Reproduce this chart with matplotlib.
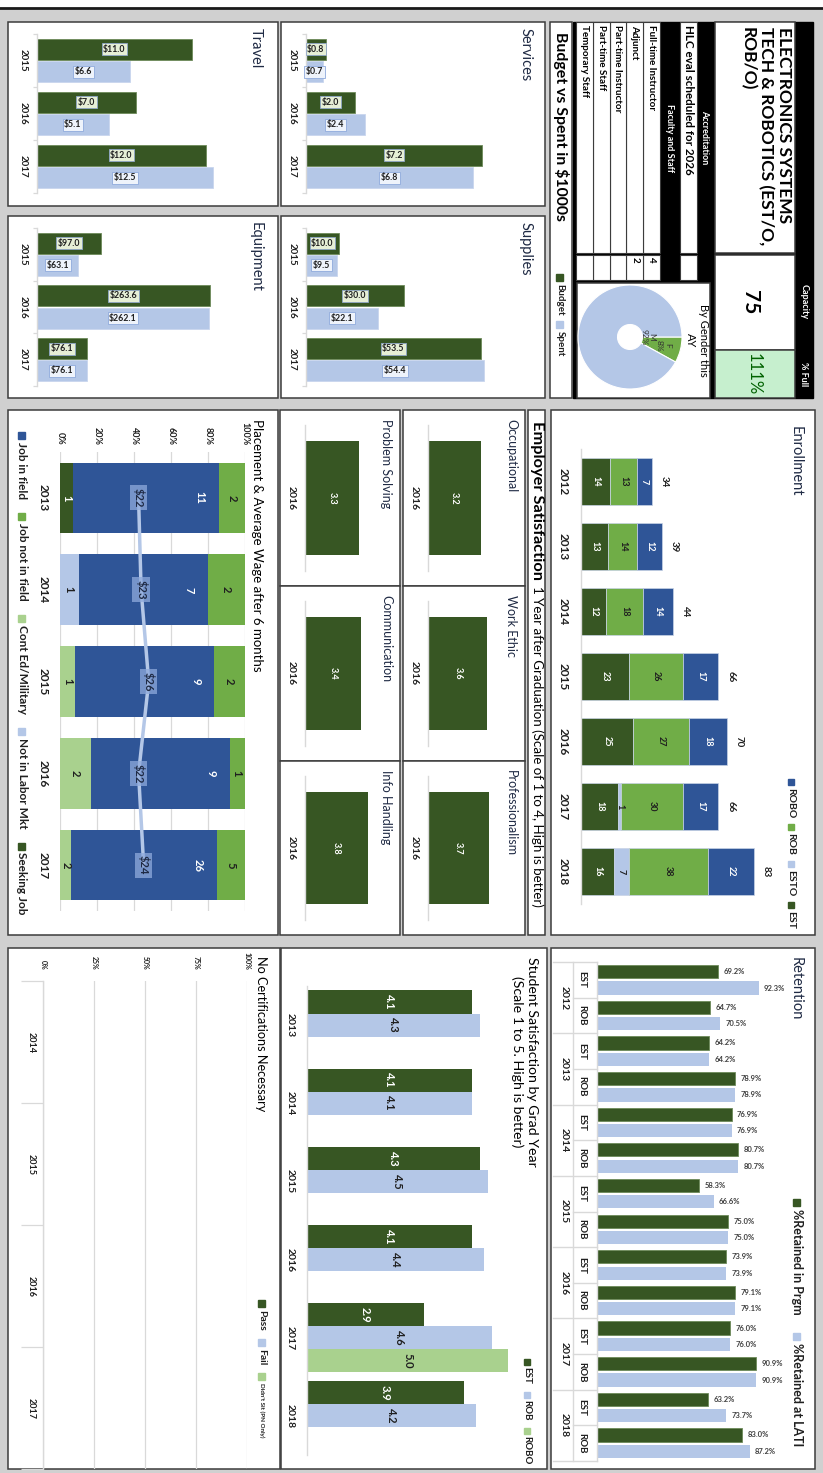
import numpy as np
import matplotlib.pyplot as plt
import matplotlib.transforms as mtransforms
from matplotlib.patches import Rectangle

plt.rcParams["font.family"] = ["Lato", "DejaVu Sans"]

# ---- data ----
budget_years = ["2015", "2016", "2017"]
services_budget = [0.8, 2.0, 7.2]
services_spent = [0.7, 2.4, 6.8]
supplies_budget = [10.0, 30.0, 53.5]
supplies_spent = [9.5, 22.1, 54.4]
travel_budget = [11.0, 7.0, 12.0]
travel_spent = [6.6, 5.1, 12.5]
equipment_budget = [97.0, 263.6, 76.1]
equipment_spent = [63.1, 262.1, 76.1]

staff_roles = ["Full-time Instructor", "Adjunct", "Part-time Instructor",
               "Part-time Staff", "Temporary Staff"]
staff_counts = ["4", "2", "", "", ""]
capacity = "75"
percent_full = "111%"
gender_labels = ["F", "M"]
gender_share = [8, 92]

enroll_years = ["2012", "2013", "2014", "2015", "2016", "2017", "2018"]
enroll_est = [14, 13, 12, 23, 25, 18, 16]
enroll_esto = [0, 0, 0, 0, 0, 1, 7]
enroll_rob = [13, 14, 18, 26, 27, 30, 38]
enroll_robo = [7, 12, 14, 17, 18, 17, 22]

employer_areas = ["Occupational", "Work Ethic", "Professionalism",
                  "Problem Solving", "Communication", "Info Handling"]
employer_scores = [3.2, 3.6, 3.7, 3.3, 3.4, 3.8]
employer_year = ["2016"]

place_years = ["2013", "2014", "2015", "2016", "2017"]
place_job_in_field = [11, 7, 9, 9, 26]
place_job_not_in_field = [2, 2, 2, 1, 5]
place_cont_ed = [0, 0, 1, 2, 2]
place_not_in_labor = [0, 1, 0, 0, 0]
place_seeking = [1, 0, 0, 0, 0]
place_wage = [22, 23, 26, 22, 24]

ret_years = ["2012", "2013", "2014", "2015", "2016", "2017", "2018"]
ret_programs = ["EST", "ROB"] * 7
ret_in_program = [69.2, 64.7, 64.2, 78.9, 76.9, 80.7, 58.3,
                  75.0, 73.9, 79.1, 76.0, 90.9, 63.2, 83.0]
ret_at_lati = [92.3, 70.5, 64.2, 78.9, 76.9, 80.7, 66.6,
               75.0, 73.9, 79.1, 76.0, 90.9, 73.7, 87.2]

sat_years = ["2013", "2014", "2015", "2016", "2017", "2018"]
sat_est = [4.1, 4.1, 4.3, 4.1, 2.9, 3.9]
sat_rob = [4.3, 4.1, 4.5, 4.4, 4.6, 4.2]
sat_robo = [np.nan, np.nan, np.nan, np.nan, 5.0, np.nan]

cert_years = ["2014", "2015", "2016", "2017"]
cert_pass = [0, 0, 0, 0]
cert_fail = [0, 0, 0, 0]
cert_didnt_sit = [0, 0, 0, 0]

# ---- style ----
W, H = 823, 1473
BG = "#d0d0d0"
EDGE = "#3c3c3c"
DARK_GREEN = "#375623"
MID_GREEN = "#70ad47"
LIGHT_GREEN = "#a9d18e"
DARK_BLUE = "#2f5597"
LIGHT_BLUE = "#b4c7e7"
GRID = "#d9d9d9"
TXT = "#1f1f1f"
TITLE = "#1f2a44"

fig = plt.figure(figsize=(W / 100, H / 100), dpi=100, facecolor=BG)
canvas = fig.add_axes([0, 0, 1, 1])
canvas.set_xlim(0, W)
canvas.set_ylim(H, 0)
canvas.axis("off")
canvas.add_patch(Rectangle((0, 0), W, 7.5, color="white", zorder=0))
canvas.plot([0, W], [8, 8], color="#1a1a1a", lw=2)
renderer = fig.canvas.get_renderer()


def px_axes(x0, y0, x1, y1):
    ax = fig.add_axes([x0 / W, 1 - y1 / H, (x1 - x0) / W, (y1 - y0) / H])
    ax.patch.set_alpha(0)
    return ax


def cell(x0, y0, x1, y1, fc="white", ec=EDGE, lw=1.1):
    canvas.add_patch(Rectangle((x0, y0), x1 - x0, y1 - y0,
                               facecolor=fc, edgecolor=ec, linewidth=lw))


def vtext(x, y, s, ax=None, **kw):
    ax = canvas if ax is None else ax
    kw.setdefault("rotation", -90)
    kw.setdefault("ha", "center")
    kw.setdefault("va", "center")
    kw.setdefault("color", TXT)
    return ax.text(x, y, s, **kw)


def legend_v(x, y, items, size, gap=7, sq=7, off=3):
    for color, label in items:
        canvas.add_patch(Rectangle((x - sq / 2, y), sq, sq, color=color))
        t = vtext(x, y + sq + off, label, fontsize=size, fontweight="bold", va="top")
        y = y + sq + off + t.get_window_extent(renderer).height + gap


def cat_axis(ax, labels, size, pad, tick_len=0):
    n = len(labels)
    ax.set_ylim(n - 0.5, -0.5)
    ax.set_yticks(np.arange(n))
    ax.set_yticklabels(labels, rotation=-90, va="center", fontsize=size,
                       fontweight="bold", color=TXT)
    ax.tick_params(axis="y", which="major", length=0, pad=pad)
    if tick_len:
        ax.set_yticks(np.arange(n + 1) - 0.5, minor=True)
        ax.tick_params(axis="y", which="minor", length=tick_len, color=GRID, width=0.9)
    ax.set_xticks([])
    for s in ["top", "right", "bottom"]:
        ax.spines[s].set_visible(False)
    ax.spines["left"].set_color(GRID)
    ax.spines["left"].set_linewidth(1.0)


# ---- budget vs spent panels ----
def budget_chart(panel, plot, title_x, title, budget, spent, vmax, pad):
    cell(*panel)
    vtext(title_x, panel[1] + 6, title, fontsize=10.5, ha="right", va="top", color=TITLE)
    ax = px_axes(*plot)
    pos = np.arange(len(budget_years))
    ax.barh(pos - 0.21, budget, height=0.4, color=DARK_GREEN, edgecolor="#6d8a5a", linewidth=0.6)
    ax.barh(pos + 0.21, spent, height=0.4, color=LIGHT_BLUE, edgecolor="#c9d6ee", linewidth=0.6)
    ax.set_xlim(0, vmax)
    cat_axis(ax, budget_years, 7, pad, tick_len=3)
    for p, b, s in zip(pos, budget, spent):
        ax.text(b / 2, p - 0.21, f"${b:.1f}", ha="center", va="center", fontsize=6.3,
                fontweight="bold", color=TXT,
                bbox=dict(boxstyle="square,pad=0.18", fc="#e6efd6", ec="#8fa6c8", lw=0.6))
        ax.text(s / 2, p + 0.21, f"${s:.1f}", ha="center", va="center", fontsize=6.3,
                fontweight="bold", color=TXT,
                bbox=dict(boxstyle="square,pad=0.18", fc="#eef3fb", ec="#8faadc", lw=0.6))


budget_chart((281, 22, 545, 206), (306, 34, 502, 193), 533, "Services",
             services_budget, services_spent, 8, 6.5)
budget_chart((281, 216, 545, 398), (306, 228, 502, 386), 533, "Supplies",
             supplies_budget, supplies_spent, 60, 6.5)
budget_chart((8, 22, 278, 206), (37, 34, 234, 193), 263, "Travel",
             travel_budget, travel_spent, 14, 7)
budget_chart((8, 216, 278, 398), (37, 228, 234, 386), 263, "Equipment",
             equipment_budget, equipment_spent, 300, 7)

# ---- header block ----
canvas.add_patch(Rectangle((573, 22), 240, 376, color="black"))
cell(715, 22, 795, 253)
vtext(792, 27, "ELECTRONICS SYSTEMS\nTECH & ROBOTICS (EST/O,\nROB/O)", fontsize=12.5,
      fontweight="bold", ha="right", va="top", multialignment="left", linespacing=1.15,
      color="black")
cell(715, 255, 795, 350)
vtext(750, 302, capacity, fontsize=15, fontweight="bold", color="black")
cell(715, 350, 795, 398, fc="#c6efce")
vtext(754, 374, percent_full, fontsize=12, color="#006100")
vtext(804, 302, "Capacity", fontsize=6.5, fontweight="bold", color="white")
vtext(804, 374, "% Full", fontsize=6.5, fontweight="bold", color="white")
vtext(705, 137, "Accreditation", fontsize=6.5, fontweight="bold", color="white")
cell(680, 22, 697, 253, lw=0.8)
cell(680, 255, 697, 280, lw=0.8)
vtext(688.5, 25, "HLC eval scheduled for 2026", fontsize=8.4, fontweight="bold", va="top",
      color="black")
vtext(670, 138, "Faculty and Staff", fontsize=6.5, fontweight="bold", color="white")
row_h = 16.8
for i, (role, n) in enumerate(zip(staff_roles, staff_counts)):
    top = 660 - row_h * (i + 1)
    cell(top, 22, top + row_h, 253, lw=0.8)
    cell(top, 255, top + row_h, 280, lw=0.8)
    vtext(top + row_h / 2, 25, role, fontsize=7.1, fontweight="bold", va="top", color="black")
    if n:
        vtext(top + row_h / 2, 257, n, fontsize=7.1, fontweight="bold", va="top", color="black")

# budget section heading
cell(550, 22, 572, 398)
vtext(561, 32, "Budget vs Spent in $1000s", fontsize=11.4, fontweight="bold", va="top",
      color="black")
legend_v(560, 274, [(DARK_GREEN, "Budget"), (LIGHT_BLUE, "Spent")], 7, gap=5)

# gender donut
cell(577, 283, 710, 398)
vtext(697, 340, "By Gender this\nAY", fontsize=8, multialignment="center", color="black")
axp = px_axes(578, 285, 682, 389)
axp.pie(gender_share, colors=[MID_GREEN, LIGHT_BLUE], startangle=0, counterclock=False,
        wedgeprops=dict(width=0.76, edgecolor="white", linewidth=0.8))
axp.set_xlim(-1, 1)
axp.set_ylim(-1, 1)
mid = np.deg2rad(-gender_share[0] / 100 * 360 / 2)
vtext(0.66 * np.cos(mid), 0.66 * np.sin(mid), f"{gender_labels[0]}\n{gender_share[0]}%",
      ax=axp, fontsize=6, multialignment="center", color="#333333")
vtext(0.34, 0.0, f"{gender_labels[1]}\n{gender_share[1]}%", ax=axp, fontsize=6,
      multialignment="center", color="#333333")

# ---- enrollment ----
cell(551, 410, 815, 935)
vtext(803, 426, "Enrollment", fontsize=10.5, ha="right", va="top", color=TITLE)
ax = px_axes(581, 449, 789, 904)
pos = np.arange(len(enroll_years))
left = np.zeros(len(pos))
for vals, col, tc in [(enroll_est, DARK_GREEN, "white"), (enroll_esto, LIGHT_BLUE, TXT),
                      (enroll_rob, MID_GREEN, TXT), (enroll_robo, DARK_BLUE, "white")]:
    vals = np.array(vals)
    ax.barh(pos, vals, left=left, height=0.71, color=col, edgecolor="#c8d3e6", linewidth=0.5)
    for p, v, l in zip(pos, vals, left):
        if v:
            vtext(l + v / 2, p, str(v), ax=ax, fontsize=6.5, fontweight="bold", color=tc)
    left += vals
for p, t in zip(pos, left):
    ax.annotate(f"{int(t)}", (t, p), xytext=(9, 0), textcoords="offset points",
                rotation=-90, ha="center", va="center", fontsize=7, fontweight="bold", color=TXT)
ax.set_xlim(0, 100)
cat_axis(ax, enroll_years, 8.5, 9)
legend_v(791, 779, [(DARK_BLUE, "ROBO"), (MID_GREEN, "ROB"), (LIGHT_BLUE, "ESTO"),
                    (DARK_GREEN, "EST")], 7.5, gap=6, sq=6, off=3)

# ---- employer satisfaction ----
cell(528, 410, 545, 935)
t_bold = vtext(537, 421, "Employer Satisfaction", fontsize=11.8, fontweight="bold", va="top",
               color="black")
bold_end = 421 + t_bold.get_window_extent(renderer).height
vtext(537.5, bold_end + 6, "1 Year after Graduation (Scale of 1 to 4, High is better)",
      fontsize=9.6, va="top", color="black")
emp_cols = [(403, 525), (280, 400)]
emp_rows = [(410, 586), (586, 761), (761, 935)]
for i, (area, score) in enumerate(zip(employer_areas, employer_scores)):
    x0, x1 = emp_cols[i // 3]
    y0, y1 = emp_rows[i % 3]
    cell(x0, y0, x1, y1)
    vtext(x1 - 8, y0 + 9, area, fontsize=9, ha="right", va="top", color=TITLE)
    ax = px_axes(x0 + 25, y0 + 15, x0 + 25 + 66, y1 - 15)
    ax.barh([0], [score], height=0.78, color=DARK_GREEN)
    vtext(score / 2, 0, f"{score:.1f}", ax=ax, fontsize=6.5, fontweight="bold", color="white")
    ax.set_xlim(0, 4)
    cat_axis(ax, employer_year, 7.5, 7)

# ---- placement ----
cell(8, 410, 278, 935)
vtext(263, 419, "Placement & Average Wage after 6 months", fontsize=9.5, ha="right",
      va="top", color="black")
ax = px_axes(60, 452, 245, 911)
pos = np.arange(len(place_years))
place_series = [
    (place_seeking, DARK_GREEN, "white", False),
    (place_cont_ed, LIGHT_GREEN, TXT, False),
    (place_not_in_labor, LIGHT_BLUE, TXT, False),
    (place_job_in_field, DARK_BLUE, "white", True),
    (place_job_not_in_field, MID_GREEN, TXT, False),
]
totals = np.sum([s[0] for s in place_series], axis=0)
left = np.zeros(len(pos))
for vals, col, tc, at_end in place_series:
    share = np.array(vals) / totals
    ax.barh(pos, share, left=left, height=0.77, color=col, zorder=2)
    for p, v, s, l in zip(pos, vals, share, left):
        if v:
            xl = l + s - 0.1 if at_end else l + s / 2
            vtext(xl, p, str(v), ax=ax, fontsize=8, fontweight="bold", color=tc, zorder=4)
    left += share
ax.set_xlim(0, 1)
cat_axis(ax, place_years, 8.5, 8)
ax.spines["left"].set_visible(False)
ax.grid(axis="x", color=GRID, lw=0.9, zorder=0)
ax.set_axisbelow(True)
ax2 = ax.twiny()
ax2.plot(place_wage, pos, color=LIGHT_BLUE, lw=2.5, zorder=3)
for p, w in zip(pos, place_wage):
    vtext(w, p, f"${w}", ax=ax2, fontsize=8, fontweight="bold", color="#1f2a44", zorder=5,
          bbox=dict(boxstyle="square,pad=0.25", fc="#8faadc", ec="none", alpha=0.75))
ax2.set_xlim(-9, 64)
ax2.axis("off")
ax.xaxis.tick_top()
ax.set_xticks(np.linspace(0, 1, 6))
ax.set_xticklabels([f"{int(v * 100)}%" for v in np.linspace(0, 1, 6)], rotation=-90,
                   fontsize=6.5, fontweight="bold", color=TXT)
ax.tick_params(axis="x", length=0, pad=5)
legend_v(22, 432, [(DARK_BLUE, "Job in field"), (MID_GREEN, "Job not in field"),
                   (LIGHT_GREEN, "Cont Ed/Military"), (LIGHT_BLUE, "Not in Labor Mkt"),
                   (DARK_GREEN, "Seeking Job")], 8.5, gap=14)

# ---- retention ----
cell(551, 948, 815, 1469)
vtext(803, 957, "Retention", fontsize=10.5, ha="right", va="top", color=TITLE)
ax = px_axes(597, 962, 772, 1461)
pos = np.arange(len(ret_programs))
ax.barh(pos - 0.23, ret_in_program, height=0.37, color=DARK_GREEN, edgecolor="#6d8a5a", lw=0.6)
ax.barh(pos + 0.23, ret_at_lati, height=0.37, color=LIGHT_BLUE)
for p, a, b in zip(pos, ret_in_program, ret_at_lati):
    for v, off in [(a, -0.23), (b, 0.23)]:
        ax.annotate(f"{v:.1f}%", (v, p + off), xytext=(4, 0), textcoords="offset points",
                    ha="left", va="center", fontsize=5.5, fontweight="bold", color="#404040")
ax.set_xlim(0, 100)
cat_axis(ax, ret_programs, 7, 8)
trans = mtransforms.blended_transform_factory(ax.transAxes, ax.transData)
for k, yr in enumerate(ret_years):
    vtext(-0.185, 2 * k + 0.5, yr, ax=ax, transform=trans, fontsize=7.5, fontweight="bold")
for k in range(len(ret_years) + 1):
    ax.plot([-0.252, 0], [2 * k - 0.5] * 2, transform=trans, color=GRID, lw=1, clip_on=False)
for k in range(len(ret_years)):
    ax.plot([-0.137, 0], [2 * k + 0.5] * 2, transform=trans, color=GRID, lw=1, clip_on=False)
ax.plot([-0.137, -0.137], [-0.5, len(pos) - 0.5], transform=trans, color=GRID, lw=1,
        clip_on=False)
legend_v(797, 1199, [(DARK_GREEN, "%Retained in Prgm"), (LIGHT_BLUE, "%Retained at LATI")],
         9, gap=18)

# ---- student satisfaction ----
cell(281, 948, 547, 1469)
vtext(538, 957, "Student Satisfaction by Grad Year\n(Scale 1 to 5. High is better)",
      fontsize=10.2, ha="right", va="top", multialignment="center", color="black")
ax = px_axes(307, 986, 508, 1455)
pos = np.arange(len(sat_years))
for vals, off, col, tc in [(sat_est, -0.295, DARK_GREEN, "white"), (sat_rob, 0, LIGHT_BLUE, TXT),
                           (sat_robo, 0.295, LIGHT_GREEN, TXT)]:
    ax.barh(pos + off, vals, height=0.295, color=col)
    for p, v in zip(pos, vals):
        if not np.isnan(v):
            vtext(v / 2, p + off, f"{v:.1f}", ax=ax, fontsize=8, fontweight="bold", color=tc)
ax.set_xlim(0, 5)
cat_axis(ax, sat_years, 7.5, 9)
legend_v(527, 1359, [(DARK_GREEN, "EST"), (LIGHT_BLUE, "ROB"), (LIGHT_GREEN, "ROBO")], 7,
         gap=8, sq=6, off=2)

# ---- certifications ----
cell(8, 948, 280, 1469)
vtext(267, 956, "No Certifications Necessary", fontsize=9.1, ha="right", va="top", color="black")
ax = px_axes(43, 981, 247, 1469)
pos = np.arange(len(cert_years))
left = np.zeros(len(pos))
for vals, col in [(cert_pass, DARK_GREEN), (cert_fail, LIGHT_BLUE), (cert_didnt_sit, LIGHT_GREEN)]:
    ax.barh(pos, vals, left=left, height=0.6, color=col)
    left += np.array(vals)
ax.set_xlim(0, 1)
cat_axis(ax, cert_years, 6.5, 5, tick_len=16)
ax.xaxis.tick_top()
ax.set_xticks(np.linspace(0, 1, 5))
ax.set_xticklabels([f"{int(v * 100)}%" for v in np.linspace(0, 1, 5)], rotation=-90,
                   fontsize=5, fontweight="bold", color=TXT)
ax.tick_params(axis="x", length=0, pad=8)
ax.grid(axis="x", color=GRID, lw=0.9)
y = 1300
for color, label, size in [(DARK_GREEN, "Pass", 7.5), (LIGHT_BLUE, "Fail", 7.5),
                           (LIGHT_GREEN, "Didn't Sit (PN Only)", 4.5)]:
    canvas.add_patch(Rectangle((258.5, y), 7, 7, color=color))
    t = vtext(262, y + 10, label, fontsize=size, fontweight="bold", va="top")
    y = y + 10 + t.get_window_extent(renderer).height + 8

fig.savefig("out.png", dpi=100, facecolor=fig.get_facecolor())
